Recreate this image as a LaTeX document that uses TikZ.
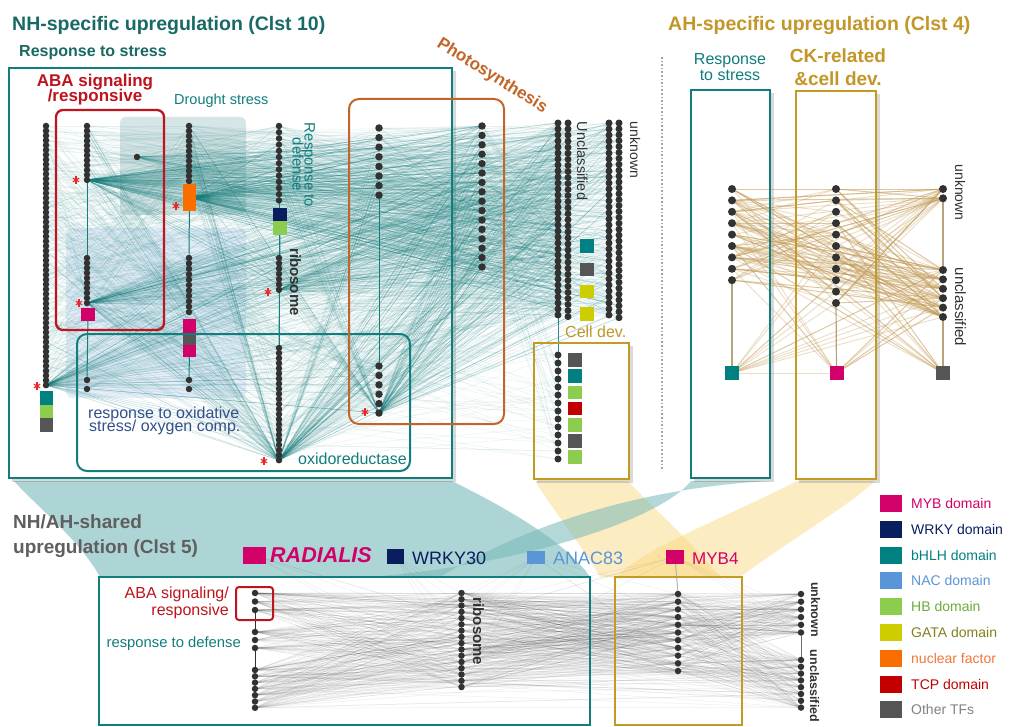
\documentclass[tikz,border=0pt]{standalone}
\usepackage{fontspec}
\setmainfont{Liberation Sans}
\pgfdeclarelayer{bg}
\pgfdeclarelayer{edges}
\pgfsetlayers{bg,edges,main}
\definecolor{tealC}{RGB}{18,125,125}
\definecolor{tealT}{RGB}{25,105,100}
\definecolor{goldC}{RGB}{195,155,35}
\definecolor{goldT}{RGB}{195,150,40}
\definecolor{goldE}{RGB}{195,155,85}
\definecolor{redC}{RGB}{190,20,30}
\definecolor{magC}{RGB}{210,0,105}
\definecolor{navyC}{RGB}{10,30,95}
\definecolor{bhlhC}{RGB}{0,128,128}
\definecolor{nacC}{RGB}{90,150,215}
\definecolor{hbC}{RGB}{140,205,80}
\definecolor{gataC}{RGB}{205,205,0}
\definecolor{nucC}{RGB}{250,110,0}
\definecolor{tcpC}{RGB}{195,0,0}
\definecolor{othC}{RGB}{85,85,85}
\definecolor{dotC}{RGB}{50,50,50}
\definecolor{brownC}{RGB}{195,100,40}
\definecolor{oxC}{RGB}{50,80,140}
\definecolor{grayT}{RGB}{95,95,95}
\definecolor{astC}{RGB}{230,40,40}
\definecolor{hbT}{RGB}{110,170,60}
\definecolor{gataT}{RGB}{130,130,30}
\definecolor{nucT}{RGB}{240,120,60}
\definecolor{othT}{RGB}{130,130,130}
\definecolor{fanTC}{RGB}{120,185,185}
\definecolor{fanYC}{RGB}{250,215,120}
\definecolor{drC}{RGB}{120,170,170}
\newcommand\setfz[2]{\fontsize{#1}{#2}\selectfont}
\newcommand\emult{1}
\newcommand\dotcol[6]{\foreach \i in {1,...,#4}{\node[dot,minimum size=#6] (#1-\i) at (#2,{#3+(\i-1)*#5}) {};}}
\newcommand\redges[6]{\pgfmathtruncatemacro\ecnt{#6*\emult}\foreach \k in {1,...,\ecnt}{\pgfmathrandominteger{\ia}{1}{#3}\pgfmathrandominteger{\ib}{1}{#5}\draw[#1] (#2-\ia.center) -- (#4-\ib.center);}}
\newcommand\hedges[5]{\pgfmathtruncatemacro\ecnt{#5*\emult}\foreach \k in {1,...,\ecnt}{\pgfmathrandominteger{\ib}{1}{#4}\draw[#1] (#2) -- (#3-\ib.center);}}
\newcommand\shbox[4]{\draw[black,opacity=0.15,line width=3pt] ({#1+3},{#4+2.5}) -- ({#3+2.5},{#4+2.5}) -- ({#3+2.5},{#2+3});}
\pgfmathsetseed{11}
\begin{document}
\begin{tikzpicture}[x=1pt,y=-1pt,
  dot/.style={circle,fill=dotC,inner sep=0pt,minimum size=6.5pt},
  tf/.style={rectangle,inner sep=0pt,minimum width=13.5pt,minimum height=13.5pt},
  lbl/.style={inner sep=0pt},
  tedge/.style={draw=tealC,opacity=0.085,line width=0.5pt},
  hedge/.style={draw=tealC,opacity=0.13,line width=0.5pt},
  gedge/.style={draw=goldE,opacity=0.33,line width=0.9pt},
  kedge/.style={draw=black!75,opacity=0.085,line width=0.5pt},
  vline/.style={draw=tealC,line width=1pt},
  frame/.style={line width=2.3pt},
  astk/.pic={\foreach \a in {90,30,-30} \draw[astC,line width=1.1pt] (\a:3.6) -- (\a+180:3.6);}
]
\useasboundingbox (0,0) rectangle (1011,727);

% ---------- dot columns: NH-specific ----------
\dotcol{A}{46}{126}{55}{4.8}{6.5pt}
\dotcol{B1}{87}{126}{12}{4.9}{6.5pt}
\dotcol{B2}{87}{258}{10}{5}{6.5pt}
\dotcol{B3}{87}{380}{2}{9}{6.5pt}
\node[dot] (S) at (137,157) {};
\dotcol{C1}{189}{126}{12}{5}{6.5pt}
\dotcol{C2}{189}{258}{11}{5.4}{6.5pt}
\dotcol{C3}{189}{380}{2}{9}{6.5pt}
\dotcol{D1}{279}{126}{13}{6.2}{6.5pt}
\dotcol{D2}{279}{258}{7}{5.3}{6.5pt}
\dotcol{D3}{279}{348}{23}{5.1}{6.5pt}
\dotcol{E1}{379}{128}{8}{9.6}{7.5pt}
\dotcol{E2}{379}{366}{6}{9.4}{7.5pt}
\dotcol{F}{482}{126}{16}{9.4}{7.5pt}
\dotcol{G1}{558}{123}{33}{6}{7pt}
\dotcol{G2}{568}{123}{33}{6.05}{7pt}
\dotcol{H1}{609}{123}{33}{6}{7pt}
\dotcol{H2}{619}{123}{34}{5.9}{7pt}
\dotcol{K}{558}{355}{14}{8}{7pt}

% TF squares NH
\node[tf,fill=bhlhC,minimum width=13pt] (sqA1) at (46,398) {};
\node[tf,fill=hbC,minimum width=13pt] (sqA2) at (46,411.5) {};
\node[tf,fill=othC,minimum width=13pt] (sqA3) at (46,425) {};
\node[tf,fill=magC,minimum width=14pt,minimum height=13pt] (sqB) at (88,314.5) {};
\node[tf,fill=nucC,minimum width=13pt,minimum height=27pt] (sqC) at (189.5,197.5) {};
\node[tf,fill=magC,minimum width=13pt,minimum height=13.5pt] (sqC2a) at (189.5,326) {};
\node[tf,fill=othC,minimum width=13pt,minimum height=12pt] (sqC2b) at (189.5,339) {};
\node[tf,fill=magC,minimum width=13pt,minimum height=12pt] (sqC2c) at (189.5,351) {};
\node[tf,fill=navyC,minimum width=14pt,minimum height=13pt] (sqD1) at (280,214.5) {};
\node[tf,fill=hbC,minimum width=14pt,minimum height=14pt] (sqD2) at (280,228) {};
\node[tf,fill=bhlhC] (sqG1) at (587,246) {};
\node[tf,fill=othC] (sqG2) at (587,269.5) {};
\node[tf,fill=gataC] (sqG3) at (587,291.5) {};
\node[tf,fill=gataC] (sqG4) at (587,314) {};
\foreach \c [count=\i] in {othC,bhlhC,hbC,tcpC,hbC,othC,hbC}
  \node[tf,fill=\c,minimum width=14pt,minimum height=13.5pt] (sqK\i) at (575,{360+(\i-1)*16.2}) {};

% ---------- AH-specific ----------
\dotcol{P}{732}{189}{9}{11.4}{8pt}
\dotcol{Q}{836}{189}{11}{11.4}{8pt}
\dotcol{R1}{943}{189}{2}{9.3}{8pt}
\dotcol{R2}{943}{270}{6}{9.4}{8pt}
\node[tf,fill=bhlhC,minimum width=14pt,minimum height=14pt] (sqP) at (732,373) {};
\node[tf,fill=magC,minimum width=14pt,minimum height=14pt] (sqQ) at (836.5,373) {};
\node[tf,fill=othC,minimum width=14pt,minimum height=14pt] (sqR) at (943,373) {};

% ---------- shared ----------
\dotcol{U1}{255}{593}{3}{8.5}{6.5pt}
\dotcol{U2}{255}{632}{3}{8}{6.5pt}
\dotcol{U3}{255}{670}{7}{6.3}{6.5pt}
\dotcol{V}{461.5}{593}{16}{6.27}{6.5pt}
\dotcol{W}{678}{594}{11}{7.7}{6.5pt}
\dotcol{X1}{801}{594}{6}{7.7}{6.5pt}
\dotcol{X2}{801}{660}{8}{6.8}{6.5pt}
\node[tf,fill=magC,minimum width=23pt,minimum height=17pt] (sqRad) at (254.5,555.5) {};
\node[tf,fill=navyC,minimum width=17pt,minimum height=15pt] (sqW30) at (395.5,556.5) {};
\node[tf,fill=nacC,minimum width=18pt,minimum height=13pt] (sqAN) at (536,557.5) {};
\node[tf,fill=magC,minimum width=18pt,minimum height=14pt] (sqM4) at (675,557) {};

% ---------- background layer ----------
\begin{pgfonlayer}{bg}
\fill[white] (0,0) rectangle (1011,727);
\fill[fanTC,opacity=0.6] (14,481) .. controls (35,505) and (80,540) .. (100,577) -- (590,577) .. controls (565,540) and (500,505) .. (452,481) -- cycle;
\fill[fanYC,opacity=0.45] (535,481) .. controls (560,520) and (585,550) .. (600,577) -- (720,577) .. controls (690,540) and (650,505) .. (628,481) -- cycle;
\fill[fanYC,opacity=0.45] (797,481) .. controls (720,520) and (640,550) .. (617,577) -- (740,577) .. controls (790,540) and (850,505) .. (875,481) -- cycle;
\fill[fanTC,opacity=0.55] (691,481) .. controls (660,520) and (520,565) .. (370,577) -- (440,577) .. controls (560,505) and (690,485) .. (770,481) -- cycle;
\fill[drC,opacity=0.3,rounded corners=6] (120,117) rectangle (246,215);
\fill[nacC!45,opacity=0.35,rounded corners=6] (66,228) rectangle (246,398);
\shbox{9}{68}{452}{478}
\shbox{534}{343}{629}{479}
\shbox{691}{90}{770}{478}
\shbox{796}{91}{876}{479}
\end{pgfonlayer}

% ---------- edges layer ----------
\begin{pgfonlayer}{edges}
\renewcommand\emult{2.2}
\redges{tedge}{A}{55}{C1}{12}{20}
\redges{tedge}{A}{55}{C2}{11}{20}
\redges{tedge}{A}{55}{D1}{13}{20}
\redges{tedge}{A}{55}{D3}{23}{25}
\redges{tedge}{A}{55}{E1}{8}{10}
\redges{tedge}{A}{55}{F}{16}{20}
\redges{tedge}{A}{55}{G1}{33}{20}
\redges{tedge}{A}{55}{H1}{33}{15}
\redges{tedge}{B1}{12}{D1}{13}{10}
\redges{tedge}{B1}{12}{F}{16}{15}
\redges{tedge}{B2}{10}{G2}{33}{15}
\redges{tedge}{B2}{10}{D3}{23}{10}
\redges{tedge}{C1}{12}{F}{16}{15}
\redges{tedge}{C1}{12}{G1}{33}{15}
\redges{tedge}{C1}{12}{H2}{34}{15}
\redges{tedge}{C2}{11}{G2}{33}{15}
\redges{tedge}{C2}{11}{F}{16}{15}
\redges{tedge}{C2}{11}{E2}{6}{10}
\redges{tedge}{D1}{13}{F}{16}{20}
\redges{tedge}{D1}{13}{G1}{33}{20}
\redges{tedge}{D1}{13}{H1}{33}{20}
\redges{tedge}{D2}{7}{G2}{33}{15}
\redges{tedge}{D2}{7}{H2}{34}{15}
\redges{tedge}{D3}{23}{F}{16}{20}
\redges{tedge}{D3}{23}{G1}{33}{20}
\redges{tedge}{D3}{23}{H1}{33}{15}
\redges{tedge}{E1}{8}{G1}{33}{15}
\redges{tedge}{E1}{8}{H2}{34}{15}
\redges{tedge}{E2}{6}{G2}{33}{10}
\redges{tedge}{F}{16}{G1}{33}{20}
\redges{tedge}{F}{16}{H1}{33}{20}
\redges{tedge}{F}{16}{G2}{33}{15}
\redges{tedge}{K}{14}{D3}{23}{10}
\redges{tedge}{K}{14}{F}{16}{10}
\redges{tedge}{K}{14}{A}{55}{10}
\redges{tedge}{K}{14}{G1}{33}{10}
\redges{tedge}{B3}{2}{F}{16}{6}
\redges{tedge}{C3}{2}{G1}{33}{6}
\redges{tedge}{A}{55}{B2}{10}{10}
\redges{tedge}{B1}{12}{C2}{11}{10}
\redges{tedge}{C1}{12}{D3}{23}{10}
% hubs
\renewcommand\emult{1.7}
\hedges{hedge}{B1-12.center}{G1}{33}{30}
\hedges{hedge}{B1-12.center}{H1}{33}{25}
\hedges{hedge}{B1-12.center}{F}{16}{20}
\hedges{hedge}{B1-12.center}{D1}{13}{10}
\hedges{hedge}{B1-12.center}{D2}{7}{10}
\hedges{hedge}{B1-12.center}{E1}{8}{10}
\hedges{hedge}{sqC.center}{G2}{33}{30}
\hedges{hedge}{sqC.center}{H2}{34}{25}
\hedges{hedge}{sqC.center}{F}{16}{20}
\hedges{hedge}{sqC.center}{E1}{8}{10}
\hedges{hedge}{sqC.center}{D1}{13}{10}
\hedges{hedge}{B2-10.center}{G1}{33}{20}
\hedges{hedge}{B2-10.center}{F}{16}{15}
\hedges{hedge}{B2-10.center}{D3}{23}{15}
\hedges{hedge}{B2-10.center}{H1}{33}{15}
\hedges{hedge}{A-55.center}{D3}{23}{15}
\hedges{hedge}{A-55.center}{F}{16}{15}
\hedges{hedge}{A-55.center}{G2}{33}{15}
\hedges{hedge}{A-55.center}{C2}{11}{10}
\hedges{hedge}{A-55.center}{H2}{34}{10}
\hedges{hedge}{A-55.center}{E2}{6}{10}
\hedges{hedge}{D3-23.center}{A}{55}{20}
\hedges{hedge}{D3-23.center}{B1}{12}{10}
\hedges{hedge}{D3-23.center}{C1}{12}{10}
\hedges{hedge}{D3-23.center}{D1}{13}{10}
\hedges{hedge}{D3-23.center}{F}{16}{20}
\hedges{hedge}{D3-23.center}{G1}{33}{20}
\hedges{hedge}{D3-23.center}{H1}{33}{20}
\hedges{hedge}{D3-23.center}{E1}{8}{10}
\hedges{hedge}{E2-6.center}{F}{16}{20}
\hedges{hedge}{E2-6.center}{G1}{33}{20}
\hedges{hedge}{E2-6.center}{H2}{34}{20}
\hedges{hedge}{E2-6.center}{D1}{13}{10}
\hedges{hedge}{E2-6.center}{C1}{12}{10}
\hedges{hedge}{D2-7.center}{G1}{33}{15}
\hedges{hedge}{D2-7.center}{H1}{33}{15}
\hedges{hedge}{S.center}{G1}{33}{8}
\hedges{hedge}{S.center}{F}{16}{8}
\hedges{hedge}{S.center}{D1}{13}{6}
\hedges{tedge}{sqG1.center}{F}{16}{4}
\hedges{tedge}{sqG3.center}{E1}{8}{4}
% column links
\draw[vline] (B1-12) -- (B2-1);
\draw[vline] (sqB) -- (B3-1);
\draw[vline] (sqC) -- (C2-1);
\draw[vline] (sqC2c) -- (C3-1);
\draw[vline] (sqD2) -- (D3-1);
\draw[vline] (E1-8) -- (E2-1);
% AH gold edges
\renewcommand\emult{1.3}
\redges{gedge}{P}{9}{Q}{11}{30}
\redges{gedge}{P}{9}{R2}{6}{35}
\redges{gedge}{P}{9}{R1}{2}{15}
\redges{gedge}{Q}{11}{R2}{6}{35}
\redges{gedge}{Q}{11}{R1}{2}{15}
\hedges{gedge}{sqP.center}{Q}{11}{5}
\hedges{gedge}{sqP.center}{R2}{6}{5}
\hedges{gedge}{sqQ.center}{R2}{6}{6}
\hedges{gedge}{sqQ.center}{P}{9}{4}
\hedges{gedge}{sqR.center}{P}{9}{5}
\hedges{gedge}{sqR.center}{Q}{11}{5}
\draw[gedge] (sqP) -- (sqQ);
\draw[goldE!80!black,line width=1.2pt,opacity=0.7] (P-9) -- (sqP);
\draw[goldE!80!black,line width=1.2pt,opacity=0.7] (Q-11) -- (sqQ);
\draw[goldE!80!black,line width=1.2pt,opacity=0.7] (R1-2) -- (R2-1);
\draw[goldE!80!black,line width=1.2pt,opacity=0.7] (R2-6) -- (sqR);
% shared gray edges
\renewcommand\emult{2.2}
\redges{kedge}{U1}{3}{V}{16}{25}
\redges{kedge}{U2}{3}{V}{16}{25}
\redges{kedge}{U3}{7}{V}{16}{45}
\redges{kedge}{U1}{3}{W}{11}{10}
\redges{kedge}{U2}{3}{W}{11}{10}
\redges{kedge}{U3}{7}{W}{11}{20}
\redges{kedge}{V}{16}{W}{11}{80}
\redges{kedge}{V}{16}{X1}{6}{25}
\redges{kedge}{V}{16}{X2}{8}{25}
\redges{kedge}{W}{11}{X1}{6}{40}
\redges{kedge}{W}{11}{X2}{8}{45}
\redges{kedge}{U3}{7}{X2}{8}{10}
\redges{kedge}{U1}{3}{X1}{6}{10}
\renewcommand\emult{1}
\hedges{kedge}{sqRad.center}{V}{16}{5}
\hedges{kedge}{sqW30.center}{V}{16}{6}
\hedges{kedge}{sqAN.center}{V}{16}{6}
\hedges{kedge}{sqAN.center}{W}{11}{4}
\hedges{kedge}{sqM4.center}{X1}{6}{4}
\hedges{kedge}{sqM4.center}{V}{16}{4}
\draw[dotC,line width=1pt] (U1-3) -- (U2-1);
\draw[dotC,line width=1pt] (U2-3) -- (U3-1);
\draw[dotC!70,line width=1pt] (X1-6) -- (X2-1);
\draw[gray!60,line width=1pt] (sqM4) -- (W-1);
\end{pgfonlayer}

% ---------- frames ----------
\draw[tealC,frame] (9,68) rectangle (452,478);
\draw[redC,frame,rounded corners=7] (56,110) rectangle (164,330);
\draw[tealC,line width=2pt,rounded corners=10] (77,334) rectangle (410,471);
\draw[brownC,line width=2pt,rounded corners=10] (349,99) rectangle (504,424);
\draw[goldC,frame] (534,343) rectangle (629,479);
\draw[gray!70,dotted,line width=1.6pt] (662,57) -- (662,470);
\draw[tealC,frame] (691,90) rectangle (770,478);
\draw[goldC,frame] (796,91) rectangle (876,479);
\draw[tealC,frame] (99,577) rectangle (590,725);
\draw[goldC,frame] (615,577) rectangle (742,725);
\draw[redC,line width=2pt,rounded corners=3] (236,587) rectangle (273,620);

% asterisks
\foreach \p in {(76,180),(176,206),(37,386),(79,303),(268,292),(264,461),(365,412)}
  \pic at \p {astk};

% ---------- labels ----------
\node[lbl,anchor=base west,text=tealT] (tNH) at (12,31) {\setfz{19.5}{22}\bfseries NH-specific upregulation (Clst 10)};
\node[lbl,anchor=base west,text=tealT] (tRS) at (19,57) {\setfz{16}{18}\bfseries Response to stress};
\node[lbl,anchor=base,text=redC] (tABA1) at (95,87) {\setfz{17}{18}\bfseries ABA signaling};
\node[lbl,anchor=base,text=redC] (tABA2) at (95,102) {\setfz{17}{18}\bfseries /responsive};
\node[lbl,anchor=base west,text=tealC] (tDr) at (174,105) {\setfz{14.5}{16}Drought stress};
\node[lbl,anchor=base,rotate=-90,text=tealC] (tRD1) at (304.5,165) {\setfz{15}{16}Response to};
\node[lbl,anchor=base,rotate=-90,text=tealC] (tRD2) at (292.5,164.5) {\setfz{15}{16}defense};
\node[lbl,anchor=base,rotate=-90,text=dotC] (tRib) at (290,282) {\setfz{15}{16}\bfseries ribosome};
\node[lbl,anchor=base west,text=oxC] (tOx1) at (88,418) {\setfz{16}{16}response to oxidative};
\node[lbl,anchor=base west,text=oxC] (tOx2) at (89,431) {\setfz{16}{16}stress/ oxygen comp.};
\node[lbl,anchor=base west,text=tealC] (tOxr) at (298,464) {\setfz{16}{16}oxidoreductase};
\node[lbl,rotate=-32,text=brownC] (tPh) at (492,76) {\setfz{17}{18}\bfseries Photosynthesis};
\node[lbl,anchor=base,rotate=-90,text=dotC] (tUnc) at (577,161) {\setfz{14.5}{16}Unclassified};
\node[lbl,anchor=base,rotate=-90,text=dotC] (tUnk) at (630,150) {\setfz{14}{16}unknown};
\node[lbl,anchor=base west,text=goldT] (tCd) at (565,337) {\setfz{16}{16}Cell dev.};

\node[lbl,anchor=base west,text=goldT] (tAH) at (668,31) {\setfz{19.5}{22}\bfseries AH-specific upregulation (Clst 4)};
\node[lbl,anchor=base,text=tealC] (tAR1) at (730,65) {\setfz{16}{16}Response};
\node[lbl,anchor=base,text=tealC] (tAR2) at (730,81) {\setfz{16}{16}to stress};
\node[lbl,anchor=base,text=goldT] (tCK1) at (838,63) {\setfz{19}{20}\bfseries CK-related};
\node[lbl,anchor=base,text=goldT] (tCK2) at (838,86) {\setfz{19}{20}\bfseries \&cell dev.};
\node[lbl,anchor=base,rotate=-90,text=dotC] (tAUnk) at (955,192.5) {\setfz{14}{16}unknown};
\node[lbl,anchor=base,rotate=-90,text=dotC] (tAUnc) at (955,307) {\setfz{15}{16}unclassified};

\node[lbl,anchor=base west,text=grayT] (tSh1) at (13,528) {\setfz{19}{22}\bfseries NH/AH-shared};
\node[lbl,anchor=base west,text=grayT] (tSh2) at (13,553) {\setfz{19}{22}\bfseries upregulation (Clst 5)};
\node[lbl,anchor=base west,text=magC] (tRad) at (270,562) {\setfz{21.5}{22}\bfseries\itshape RADIALIS};
\node[lbl,anchor=base west,text=navyC] (tW30) at (412,564) {\setfz{18}{20}WRKY30};
\node[lbl,anchor=base west,text=nacC] (tAN) at (553,564) {\setfz{18}{20}ANAC83};
\node[lbl,anchor=base west,text=magC] (tM4) at (692,564) {\setfz{17}{20}MYB4};
\node[lbl,anchor=base east,text=redC] (tBA1) at (229,598) {\setfz{16}{16}ABA signaling/};
\node[lbl,anchor=base east,text=redC] (tBA2) at (229,615) {\setfz{16}{16}responsive};
\node[lbl,anchor=base east,text=tealC] (tBD) at (241,647) {\setfz{14.8}{16}response to defense};
\node[lbl,anchor=base,rotate=-90,text=dotC] (tBRib) at (473,631.5) {\setfz{15}{16}\bfseries ribosome};
\node[lbl,anchor=base,rotate=-90,text=dotC] (tBUnk) at (811,609.5) {\setfz{12.5}{14}\bfseries unknown};
\node[lbl,anchor=base,rotate=-90,text=dotC] (tBUnc) at (810,686) {\setfz{12.5}{14}\bfseries unclassified};

% legend
\foreach \c/\t/\tc [count=\i] in {magC/MYB domain/magC,navyC/WRKY domain/navyC,bhlhC/bHLH domain/bhlhC,nacC/NAC domain/nacC,hbC/HB domain/hbT,gataC/GATA domain/gataT,nucC/nuclear factor/nucT,tcpC/TCP domain/tcpC,othC/Other TFs/othT}{
  \node[tf,fill=\c,minimum width=22pt,minimum height=17pt] (leg\i) at (891,{503.5+(\i-1)*25.8}) {};
  \node[lbl,anchor=base west,text=\tc] (legt\i) at (911,{503.5+(\i-1)*25.8+5}) {\setfz{14}{16}\t};
}
\end{tikzpicture}
\end{document}
